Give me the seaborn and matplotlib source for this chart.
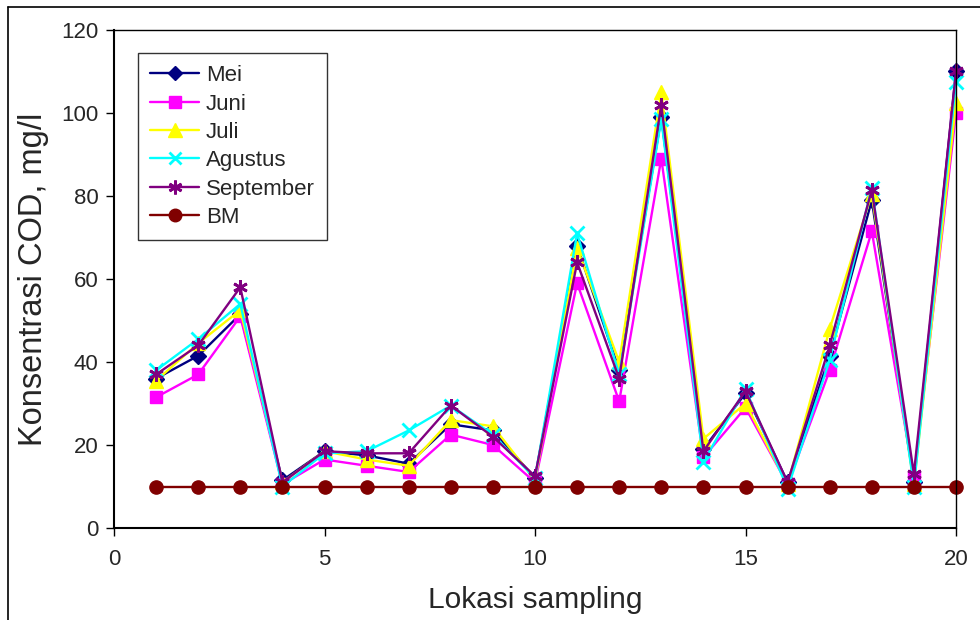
import matplotlib
matplotlib.use("Agg")
import matplotlib.pyplot as plt
from matplotlib.lines import Line2D
import seaborn as sns
import pandas as pd

# Sampling locations and monthly COD concentrations (mg/l)
lokasi = list(range(1, 21))
mei = [36, 41.5, 51.5, 11.5, 18.5, 17.5, 15.5, 25, 23.5, 12, 68, 38, 99, 19, 32.5, 11, 41.5, 79, 11, 110]
juni = [31.5, 37, 51, 10.5, 16.5, 15, 13.5, 22.5, 20, 11, 59, 30.5, 89, 17, 29, 10.5, 38, 71.5, 12, 100]
juli = [35.5, 44.5, 52.5, 11, 18.5, 16.5, 15, 26, 24.5, 11.5, 67.5, 40, 105, 21.5, 30, 10.5, 48, 80.5, 10.5, 102.5]
agustus = [38, 45.5, 54, 10, 18, 18.5, 23.5, 29.5, 22.5, 12, 71, 37, 98.5, 16, 33.5, 9.5, 40.5, 82, 10, 107.5]
september = [37, 44, 58, 11, 18.5, 18, 18, 29.5, 22, 12.5, 64, 36, 102, 18.5, 33, 11, 44, 81.5, 13, 110]
bm = [10, 10, 10, 10, 10, 10, 10, 10, 10, 10, 10, 10, 10, 10, 10, 10, 10, 10, 10, 10]

series_names = ["Mei", "Juni", "Juli", "Agustus", "September", "BM"]
series_values = [mei, juni, juli, agustus, september, bm]
x_ticks = [0, 5, 10, 15, 20]
y_ticks = [0, 20, 40, 60, 80, 100, 120]

rows = []
for name, vals in zip(series_names, series_values):
    for loc, v in zip(lokasi, vals):
        rows.append({"Lokasi": loc, "COD": v, "Bulan": name})
df = pd.DataFrame(rows)

palette = {"Mei": "#000080", "Juni": "#FF00FF", "Juli": "#FFFF00",
           "Agustus": "#00FFFF", "September": "#800080", "BM": "#800000"}
markers = {"Mei": "D", "Juni": "s", "Juli": "^", "Agustus": "x",
           "September": (6, 2, 0), "BM": "o"}
msize = {"Mei": 8, "Juni": 9, "Juli": 10, "Agustus": 9.5, "September": 10.5, "BM": 9.5}
medge = {"Mei": 1, "Juni": 1, "Juli": 1, "Agustus": 2, "September": 2, "BM": 1}

sns.set_style("white")
plt.rcParams["font.family"] = ["Liberation Sans", "DejaVu Sans"]

fig = plt.figure(figsize=(9.8, 6.2), dpi=100)
ax = fig.add_axes([114 / 980, 1 - 528 / 620, (956 - 114) / 980, (528 - 30) / 620])

for name in series_names:
    c = palette[name]
    sns.lineplot(data=df[df["Bulan"] == name], x="Lokasi", y="COD",
                 color=c, marker=markers[name], markersize=msize[name],
                 markerfacecolor=c, markeredgecolor=c, markeredgewidth=medge[name],
                 linewidth=1.7, ax=ax, legend=False, clip_on=False)

ax.set_xlim(0, 20)
ax.set_ylim(0, 120)
ax.set_xticks(x_ticks)
ax.set_yticks(y_ticks)
ax.tick_params(axis="both", direction="out", length=6, width=1,
               labelsize=16, color="black", pad=5, bottom=True, left=True)
ax.tick_params(axis="x", pad=9)
for s in ax.spines.values():
    s.set_color("black")
    s.set_linewidth(1)
ax.spines["left"].set_linewidth(1.5)
ax.spines["bottom"].set_linewidth(1.5)

ax.set_xlabel("Lokasi sampling", fontsize=21.5, labelpad=12)
ax.set_ylabel("Konsentrasi COD, mg/l", fontsize=23.5, labelpad=9)

handles = [Line2D([], [], color=palette[n], marker=markers[n], markersize=msize[n] * 0.95,
                  markerfacecolor=palette[n], markeredgecolor=palette[n],
                  markeredgewidth=medge[n], linewidth=1.7) for n in series_names]
leg = ax.legend(handles, series_names, loc="upper left",
                bbox_to_anchor=(24 / 842, 1 - 23 / 498), fontsize=16,
                frameon=True, fancybox=False, borderpad=0.55, labelspacing=0.33,
                handlelength=2.2, handletextpad=0.3, borderaxespad=0)
leg.get_frame().set_edgecolor("black")
leg.get_frame().set_linewidth(1)

# Outer frame (top and left edges)
fig.add_artist(Line2D([8 / 980, 1], [1 - 7 / 620, 1 - 7 / 620], color="black", linewidth=1.2,
                      transform=fig.transFigure))
fig.add_artist(Line2D([8 / 980, 8 / 980], [0, 1 - 7 / 620], color="black", linewidth=1.2,
                      transform=fig.transFigure))

fig.savefig("out.png", dpi=100, facecolor="white")
